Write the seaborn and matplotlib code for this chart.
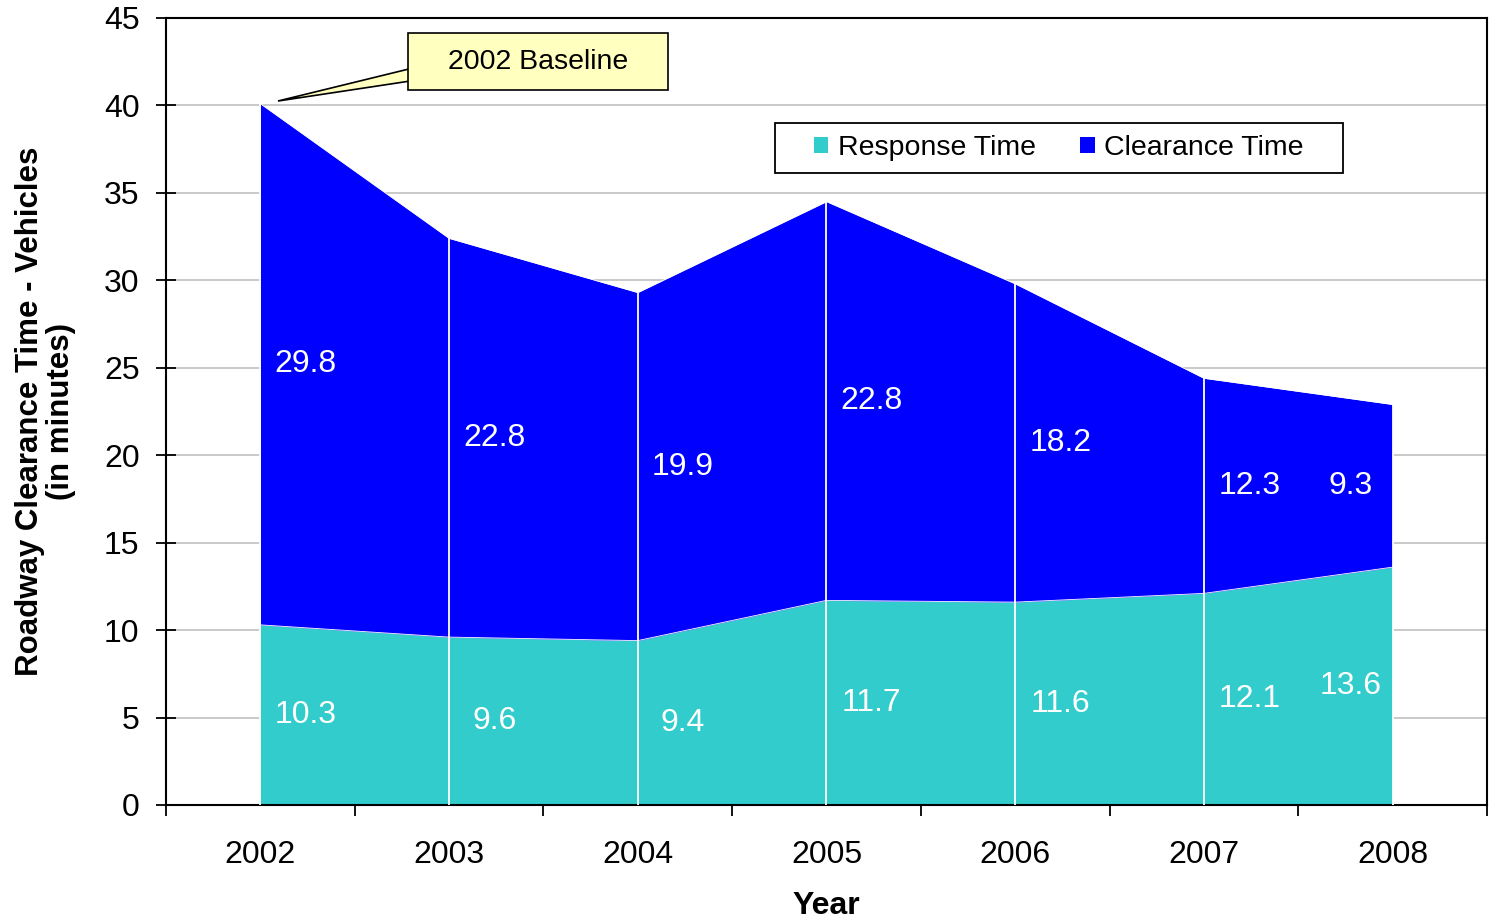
import numpy as np
import matplotlib
matplotlib.use("Agg")
import matplotlib.pyplot as plt
from matplotlib.patches import Patch, Polygon, Rectangle
import seaborn as sns

years = ["2002", "2003", "2004", "2005", "2006", "2007", "2008"]
response_time = [10.3, 9.6, 9.4, 11.7, 11.6, 12.1, 13.6]
clearance_time = [29.8, 22.8, 19.9, 22.8, 18.2, 12.3, 9.3]
y_ticks = [0, 5, 10, 15, 20, 25, 30, 35, 40, 45]

TEAL = "#33CCCC"
BLUE = "#0000FF"

sns.set_style("white")
plt.rcParams["font.family"] = ["Liberation Sans", "DejaVu Sans"]
plt.rcParams["text.color"] = "black"
plt.rcParams["axes.labelcolor"] = "black"
plt.rcParams["xtick.color"] = "black"
plt.rcParams["ytick.color"] = "black"

fig = plt.figure(figsize=(14.91, 9.18), dpi=100)
ax = fig.add_axes([0.1113, 0.1231, 0.886, 0.8573])

x = np.arange(len(years))
resp = np.array(response_time)
clear = np.array(clearance_time)
total = resp + clear

# gridlines behind the areas
for yv in y_ticks[1:-1]:
    ax.axhline(yv, color="#C0C0C0", lw=1.2, zorder=0)

ax.fill_between(x, 0, resp, color=TEAL, lw=0, zorder=2)
ax.fill_between(x, resp, total, color=BLUE, lw=0, zorder=2)
sns.lineplot(x=x, y=resp, color="white", lw=0.6, ax=ax, zorder=3)
sns.lineplot(x=x, y=total, color="white", lw=0.6, ax=ax, zorder=3)
ax.vlines(x, 0, total, color="white", lw=1.3, zorder=3)

# data labels
for i in range(len(years)):
    dx = 0.24 if i < len(years) - 1 else -0.22
    ax.text(x[i] + dx, resp[i] / 2, f"{resp[i]:.1f}", color="white",
            fontsize=23, ha="center", va="center", zorder=4)
    ax.text(x[i] + dx, resp[i] + clear[i] / 2, f"{clear[i]:.1f}", color="white",
            fontsize=23, ha="center", va="center", zorder=4)

ax.set_xlim(-0.5, len(years) - 0.5)
ax.set_ylim(0, 45)
ax.set_yticks(y_ticks)
ax.set_xticks(np.arange(-0.5, len(years), 1.0))
ax.set_xticklabels([])
ax.set_xticks(x, minor=True)
ax.set_xticklabels(years, minor=True)
ax.tick_params(axis="x", which="major", bottom=True, direction="inout", length=16, width=1.3)
ax.tick_params(axis="x", which="minor", bottom=True, length=0, pad=25, labelsize=23)
ax.tick_params(axis="y", left=True, direction="inout", length=14, width=1.3, pad=12, labelsize=23)

for s in ax.spines.values():
    s.set_color("black")
    s.set_linewidth(1.5)

ax.set_xlabel("Year", fontsize=23, fontweight="bold", labelpad=15)
ax.set_ylabel("Roadway Clearance Time - Vehicles\n(in minutes)", fontsize=22.5,
              fontweight="bold", labelpad=20, linespacing=1.05)

# legend
frame = Rectangle((0.461, 0.803), 0.430, 0.0635, transform=ax.transAxes,
                  facecolor="white", edgecolor="black", lw=1.3, zorder=5)
ax.add_patch(frame)
handles = [Patch(facecolor=TEAL, edgecolor="none", label="Response Time"),
           Patch(facecolor=BLUE, edgecolor="none", label="Clearance Time")]
leg = ax.legend(handles=handles, loc="center", bbox_to_anchor=(0.676, 0.835), ncol=2,
                fontsize=20.5, frameon=False, handlelength=0.5,
                handleheight=0.5, handletextpad=0.35, columnspacing=1.55,
                borderpad=0.3, borderaxespad=0)
leg.set_zorder(6)

# callout box
wedge = Polygon([[0.0848, 0.8945], [0.19, 0.9377], [0.19, 0.9212]], closed=True,
                transform=ax.transAxes, facecolor="#FFFFC0", edgecolor="black",
                lw=1.2, zorder=5, clip_on=False)
ax.add_patch(wedge)
box = Rectangle((0.1836, 0.9085), 0.1964, 0.0725, transform=ax.transAxes,
                facecolor="#FFFFC0", edgecolor="black", lw=1.2, zorder=6, clip_on=False)
ax.add_patch(box)
ax.text(0.2818, 0.9447, "2002 Baseline", transform=ax.transAxes, fontsize=20.5,
        ha="center", va="center", zorder=7)

fig.savefig("out.png", dpi=100)
